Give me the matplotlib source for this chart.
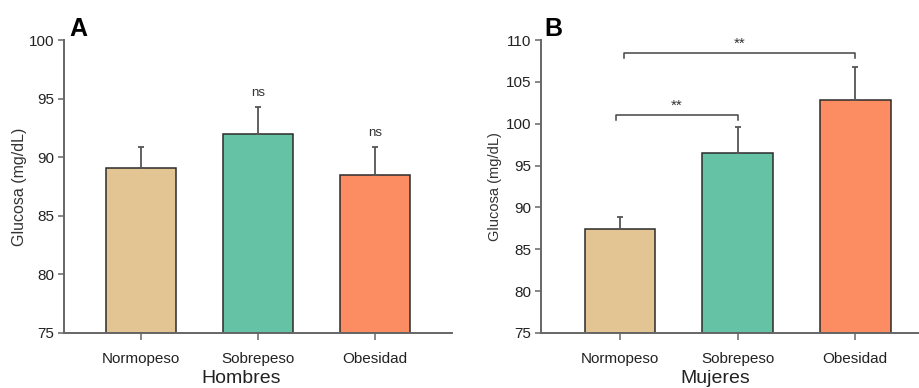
import matplotlib
matplotlib.use("Agg")
import matplotlib.pyplot as plt

plt.rcParams['font.family'] = ['Liberation Sans', 'DejaVu Sans']

categories = ["Normopeso", "Sobrepeso", "Obesidad"]
colors = ["#E3C593", "#66C2A5", "#FC8D62"]

hombres_mean = [89.1, 92.0, 88.5]
hombres_err = [1.8, 2.3, 2.35]
hombres_marks = ["", "ns", "ns"]

mujeres_mean = [87.4, 96.5, 102.8]
mujeres_err = [1.4, 3.1, 4.0]

# significance brackets: (from, to, height, label)
mujeres_brackets = [(0, 1, 101.0, "**"), (0, 2, 108.4, "**")]

spine_c = "#666666"
edge_c = "#2b2b2b"
err_c = "#555555"

fig = plt.figure(figsize=(9.2, 3.88), dpi=100)
axA = fig.add_axes([64/920, 1-333/388, (452-64)/920, (333-40)/388])
axB = fig.add_axes([541/920, 1-333/388, (920-541)/920, (333-40)/388])


def style(ax, ylim, yticks, ylabel, ylabel_size, xlabel, xlab_x):
    x = range(len(categories))
    ax.set_ylim(*ylim)
    ax.set_yticks(yticks)
    ax.set_xticks(list(x))
    ax.set_xticklabels(categories, fontsize=11, color="#222222")
    ax.tick_params(axis='y', labelsize=11, labelcolor="#222222",
                   length=4, width=1.1, color=spine_c, pad=3)
    ax.tick_params(axis='x', length=5, width=1.1, color=spine_c, pad=9)
    for s in ["top", "right"]:
        ax.spines[s].set_visible(False)
    for s in ["left", "bottom"]:
        ax.spines[s].set_color(spine_c)
        ax.spines[s].set_linewidth(1.4)
    ax.set_ylabel(ylabel, fontsize=ylabel_size, color="#333333")
    ax.set_xlabel(xlabel, fontsize=14, color="#222222")
    ax.xaxis.set_label_coords(xlab_x, -0.125)


def bars(ax, means, errs):
    x = list(range(len(categories)))
    bottom = ax.get_ylim()[0]
    heights = [m - bottom for m in means]
    ax.bar(x, heights, bottom=bottom, width=0.6, color=colors,
           edgecolor=edge_c, linewidth=1.1, zorder=2)
    ax.errorbar(x, means, yerr=[[0]*len(errs), errs], fmt='none',
                ecolor=err_c, elinewidth=1.3, capsize=2.5, capthick=1.3,
                zorder=3)


# Panel A: Hombres
axA.set_xlim(-0.66, 2.66)
style(axA, (75, 100), [75, 80, 85, 90, 95, 100], "Glucosa (mg/dL)", 11.5,
      "Hombres", 0.456)
axA.yaxis.set_label_coords(-0.095, 0.5)
bars(axA, hombres_mean, hombres_err)
for i, (m, e, t) in enumerate(zip(hombres_mean, hombres_err, hombres_marks)):
    if t:
        axA.text(i, m + e + 0.7, t, ha='center', va='bottom', fontsize=9.5,
                 color="#333333")

# Panel B: Mujeres
axB.set_xlim(-0.67, 2.55)
style(axB, (75, 110), [75, 80, 85, 90, 95, 100, 105, 110], "Glucosa (mg/dL)",
      10.5, "Mujeres", 0.46)
axB.yaxis.set_label_coords(-0.103, 0.5)
bars(axB, mujeres_mean, mujeres_err)
for x0, x1, h, lab in mujeres_brackets:
    xa = x0 - 0.035 if x1 == 1 else x0 + 0.035
    axB.plot([xa, xa, x1, x1], [h - 0.6, h, h, h - 0.6], color="#444444",
             lw=1.1, clip_on=False, zorder=4)
    axB.text((xa + x1) / 2, h + 0.3, lab, ha='center', va='bottom',
             fontsize=11, color="#333333")

fig.text(69/920, 1-36/388, "A", fontsize=18, fontweight='bold', ha='left',
         va='baseline')
fig.text(544/920, 1-36/388, "B", fontsize=18, fontweight='bold', ha='left',
         va='baseline')

fig.savefig("out.png", dpi=100, facecolor="white")
